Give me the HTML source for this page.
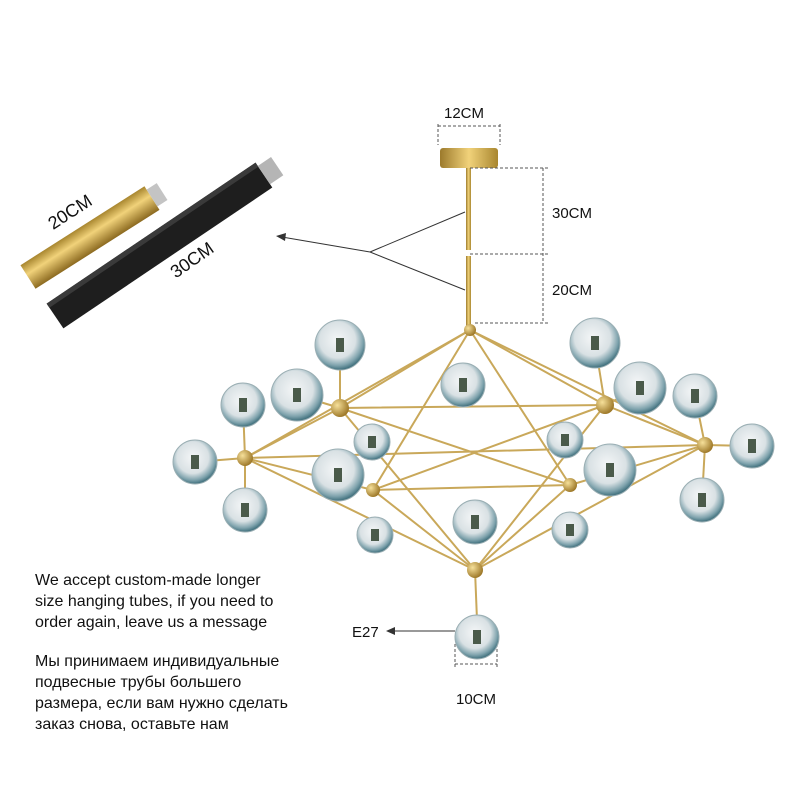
<!DOCTYPE html>
<html><head><meta charset="utf-8"><style>
html,body{margin:0;padding:0;background:#fff;}
svg{display:block;}
text{font-family:"Liberation Sans",sans-serif;fill:#111;}
</style></head><body>
<svg width="800" height="800" viewBox="0 0 800 800" xmlns="http://www.w3.org/2000/svg">
<defs>
<radialGradient id="glb" cx="0.45" cy="0.4" r="0.6">
<stop offset="0" stop-color="#f4f6f7"/>
<stop offset="0.6" stop-color="#d9e1e4"/>
<stop offset="0.85" stop-color="#7fa3ad"/>
<stop offset="1" stop-color="#3f6f7c"/>
</radialGradient>
<linearGradient id="gold" x1="0" y1="0" x2="0" y2="1">
<stop offset="0" stop-color="#a8862f"/><stop offset="0.4" stop-color="#f1d27a"/><stop offset="1" stop-color="#8c6a20"/>
</linearGradient>
<linearGradient id="goldh" x1="0" y1="0" x2="1" y2="0">
<stop offset="0" stop-color="#9c7a2c"/><stop offset="0.5" stop-color="#f1d27a"/><stop offset="1" stop-color="#a8862f"/>
</linearGradient>
<radialGradient id="ball" cx="0.35" cy="0.35" r="0.7">
<stop offset="0" stop-color="#f6e09a"/><stop offset="1" stop-color="#9a7424"/>
</radialGradient>
</defs>

<g transform="translate(28,277) rotate(-32.5)">
<rect x="0" y="-14" width="147" height="28" fill="url(#gold)"/>
<rect x="147" y="-10" width="12" height="20" fill="#c4c4c4"/>
</g>
<g transform="translate(55,316) rotate(-34)">
<rect x="0" y="-15" width="252" height="30" fill="#1e1e1e"/>
<rect x="0" y="-15" width="252" height="5" fill="#3a3a3a"/>
<rect x="252" y="-11" width="16" height="22" fill="#b5b5b5"/>
</g>
<text x="70" y="218" font-size="18" text-anchor="middle" transform="rotate(-33 70 212)">20CM</text>
<text x="192" y="266" font-size="18" text-anchor="middle" transform="rotate(-35 192 260)">30CM</text>

<line x1="370" y1="252" x2="282" y2="237" stroke="#333" stroke-width="1"/>
<polygon points="276,236 286,233 285,241" fill="#333"/>
<line x1="370" y1="252" x2="465" y2="212" stroke="#333"/>
<line x1="370" y1="252" x2="465" y2="290" stroke="#333"/>

<rect x="440" y="148" width="58" height="20" rx="3" fill="url(#goldh)"/>
<rect x="466" y="168" width="5" height="82" fill="url(#goldh)"/>
<rect x="466" y="256" width="5" height="72" fill="url(#goldh)"/>
<g stroke="#555" stroke-width="1" stroke-dasharray="3,2" fill="none">
<line x1="438" y1="124" x2="438" y2="145"/><line x1="500" y1="124" x2="500" y2="145"/>
<line x1="438" y1="126" x2="500" y2="126"/>
<line x1="470" y1="168" x2="548" y2="168"/><line x1="470" y1="254" x2="548" y2="254"/><line x1="475" y1="323" x2="548" y2="323"/>
<line x1="543" y1="168" x2="543" y2="323"/>
<line x1="455" y1="644" x2="455" y2="668"/><line x1="497" y1="644" x2="497" y2="668"/><line x1="455" y1="664" x2="497" y2="664"/>
</g>
<text x="444" y="118" font-size="15">12CM</text>
<text x="552" y="218" font-size="15">30CM</text>
<text x="552" y="295" font-size="15">20CM</text>
<text x="456" y="704" font-size="15">10CM</text>
<text x="352" y="637" font-size="15">E27</text>
<line x1="390" y1="631" x2="455" y2="631" stroke="#333"/>
<polygon points="386,631 395,627 395,635" fill="#333"/>

<g stroke="#c9a85a" stroke-width="2" fill="none">
<path d="M470,330 L340,408 L245,458 L373,490 L475,570 L570,485 L705,445 L605,405 Z"/>
<path d="M340,408 L605,405 M373,490 L570,485 M245,458 L705,445"/>
<path d="M470,330 L373,490 M470,330 L570,485 M470,330 L245,458 M470,330 L705,445"/>
<path d="M340,408 L475,570 M605,405 L475,570 M245,458 L475,570 M705,445 L475,570"/>
<path d="M340,408 L570,485 M605,405 L373,490"/>
<path d="M475,570 L477,620 M340,408 L340,345 M605,405 L595,343 M705,445 L752,446 M245,458 L195,462 M705,445 L702,500 M245,458 L245,510 M705,445 L695,396 M245,458 L243,405 M340,408 L297,395 M605,405 L640,388"/>
</g>
<g fill="url(#ball)">
<circle cx="470" cy="330" r="6"/><circle cx="340" cy="408" r="9"/><circle cx="605" cy="405" r="9"/>
<circle cx="245" cy="458" r="8"/><circle cx="705" cy="445" r="8"/><circle cx="475" cy="570" r="8"/>
<circle cx="373" cy="490" r="7"/><circle cx="570" cy="485" r="7"/>
</g>

<g stroke="#9aaeb3" stroke-width="1">
<circle cx="340" cy="345" r="25" fill="url(#glb)"/>
<circle cx="463" cy="385" r="22" fill="url(#glb)"/>
<circle cx="595" cy="343" r="25" fill="url(#glb)"/>
<circle cx="640" cy="388" r="26" fill="url(#glb)"/>
<circle cx="297" cy="395" r="26" fill="url(#glb)"/>
<circle cx="243" cy="405" r="22" fill="url(#glb)"/>
<circle cx="695" cy="396" r="22" fill="url(#glb)"/>
<circle cx="195" cy="462" r="22" fill="url(#glb)"/>
<circle cx="752" cy="446" r="22" fill="url(#glb)"/>
<circle cx="372" cy="442" r="18" fill="url(#glb)"/>
<circle cx="565" cy="440" r="18" fill="url(#glb)"/>
<circle cx="338" cy="475" r="26" fill="url(#glb)"/>
<circle cx="610" cy="470" r="26" fill="url(#glb)"/>
<circle cx="245" cy="510" r="22" fill="url(#glb)"/>
<circle cx="702" cy="500" r="22" fill="url(#glb)"/>
<circle cx="375" cy="535" r="18" fill="url(#glb)"/>
<circle cx="475" cy="522" r="22" fill="url(#glb)"/>
<circle cx="570" cy="530" r="18" fill="url(#glb)"/>
<circle cx="477" cy="637" r="22" fill="url(#glb)"/>
</g>
<g fill="#4a5a4a">
<rect x="336" y="338" width="8" height="14"/><rect x="459" y="378" width="8" height="14"/><rect x="591" y="336" width="8" height="14"/>
<rect x="636" y="381" width="8" height="14"/><rect x="293" y="388" width="8" height="14"/><rect x="239" y="398" width="8" height="14"/>
<rect x="691" y="389" width="8" height="14"/><rect x="191" y="455" width="8" height="14"/><rect x="748" y="439" width="8" height="14"/>
<rect x="368" y="436" width="8" height="12"/><rect x="561" y="434" width="8" height="12"/><rect x="334" y="468" width="8" height="14"/>
<rect x="606" y="463" width="8" height="14"/><rect x="241" y="503" width="8" height="14"/><rect x="698" y="493" width="8" height="14"/>
<rect x="371" y="529" width="8" height="12"/><rect x="471" y="515" width="8" height="14"/><rect x="566" y="524" width="8" height="12"/>
<rect x="473" y="630" width="8" height="14"/>
</g>

<g font-size="16">
<text x="35" y="585">We accept custom-made longer</text>
<text x="35" y="606">size hanging tubes, if you need to</text>
<text x="35" y="627">order again, leave us a message</text>
<text x="35" y="666">Мы принимаем индивидуальные</text>
<text x="35" y="687">подвесные трубы большего</text>
<text x="35" y="708">размера, если вам нужно сделать</text>
<text x="35" y="729">заказ снова, оставьте нам</text>
</g>
</svg>
</body></html>
